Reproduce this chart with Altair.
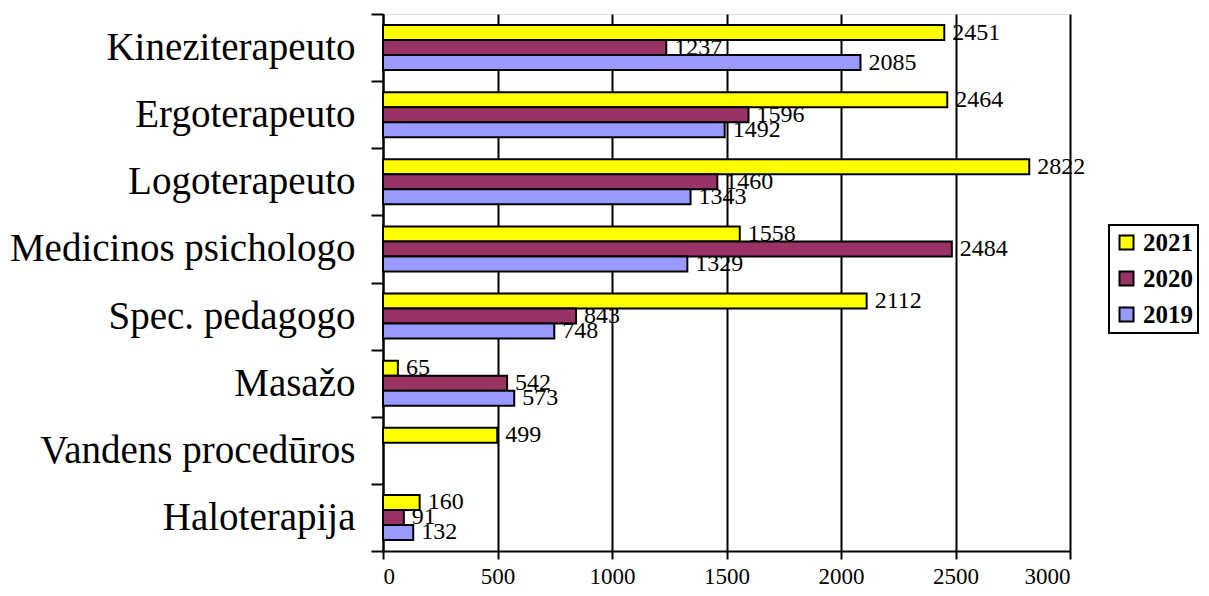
import altair as alt
import pandas as pd

categories = ["Kineziterapeuto", "Ergoterapeuto", "Logoterapeuto", "Medicinos psichologo",
              "Spec. pedagogo", "Masažo", "Vandens procedūros", "Haloterapija"]
years = ["2021", "2020", "2019"]
v2021 = [2451, 2464, 2822, 1558, 2112, 65, 499, 160]
v2020 = [1237, 1596, 1460, 2484, 843, 542, None, 91]
v2019 = [2085, 1492, 1343, 1329, 748, 573, None, 132]
colors = ["#FFFF00", "#993366", "#9999FF"]
x_ticks = [0, 500, 1000, 1500, 2000, 2500, 3000]

rows = []
for yr, vals in zip(years, [v2021, v2020, v2019]):
    for c, v in zip(categories, vals):
        if v is not None:
            rows.append({"cat": c, "year": yr, "value": v})
df = pd.DataFrame(rows)

FONT = "Liberation Serif"

y_enc = alt.Y("cat:N", sort=categories, title=None,
              scale=alt.Scale(paddingInner=0, paddingOuter=0),
              axis=alt.Axis(tickBand="extent", domainColor="black", domainWidth=2,
                            tickColor="black", tickWidth=2, tickSize=12,
                            labelFont=FONT, labelFontSize=39, labelColor="black",
                            labelPadding=16, labelLimit=400))
yoff = alt.YOffset("year:N", sort=years,
                   scale=alt.Scale(paddingInner=0, paddingOuter=0.735))
x_enc = alt.X("value:Q", title=None,
              scale=alt.Scale(domain=[0, 3000], nice=False),
              axis=alt.Axis(values=x_ticks, format="d", grid=True, gridColor="black",
                            gridWidth=2, gridOpacity=1, domainColor="black", domainWidth=2,
                            tickColor="black", tickWidth=2, tickSize=8,
                            labelFont=FONT, labelFontSize=23, labelColor="black",
                            labelPadding=6))

base = alt.Chart(df)
bars = base.mark_bar(stroke="black", strokeWidth=2).encode(
    y=y_enc, yOffset=yoff, x=x_enc,
    color=alt.Color("year:N", sort=years,
                    scale=alt.Scale(domain=years, range=colors),
                    legend=alt.Legend(title=None, orient="none", legendX=726, legendY=211,
                                      symbolType="square", symbolSize=196,
                                      symbolStrokeColor="black", symbolStrokeWidth=2,
                                      labelFont=FONT, labelFontWeight="bold",
                                      labelFontSize=25, labelColor="black",
                                      labelOffset=4,
                                      rowPadding=10, padding=5,
                                      strokeColor="black"))
)
labels = base.mark_text(align="left", baseline="middle", dx=8, font=FONT,
                        fontSize=24, color="black").encode(
    y=alt.Y("cat:N", sort=categories), yOffset=yoff, x=alt.X("value:Q"),
    text=alt.Text("value:Q")
)

chart = alt.layer(bars, labels).properties(
    width=687, height=537,
    autosize=alt.AutoSizeParams(type="none"),
    padding={"left": 375, "top": 6, "right": 131, "bottom": 37},
).configure_view(strokeWidth=0).configure(background="white").configure_legend(strokeWidth=2)

chart.save("out.html", embed_options={"renderer": "svg", "actions": False})
